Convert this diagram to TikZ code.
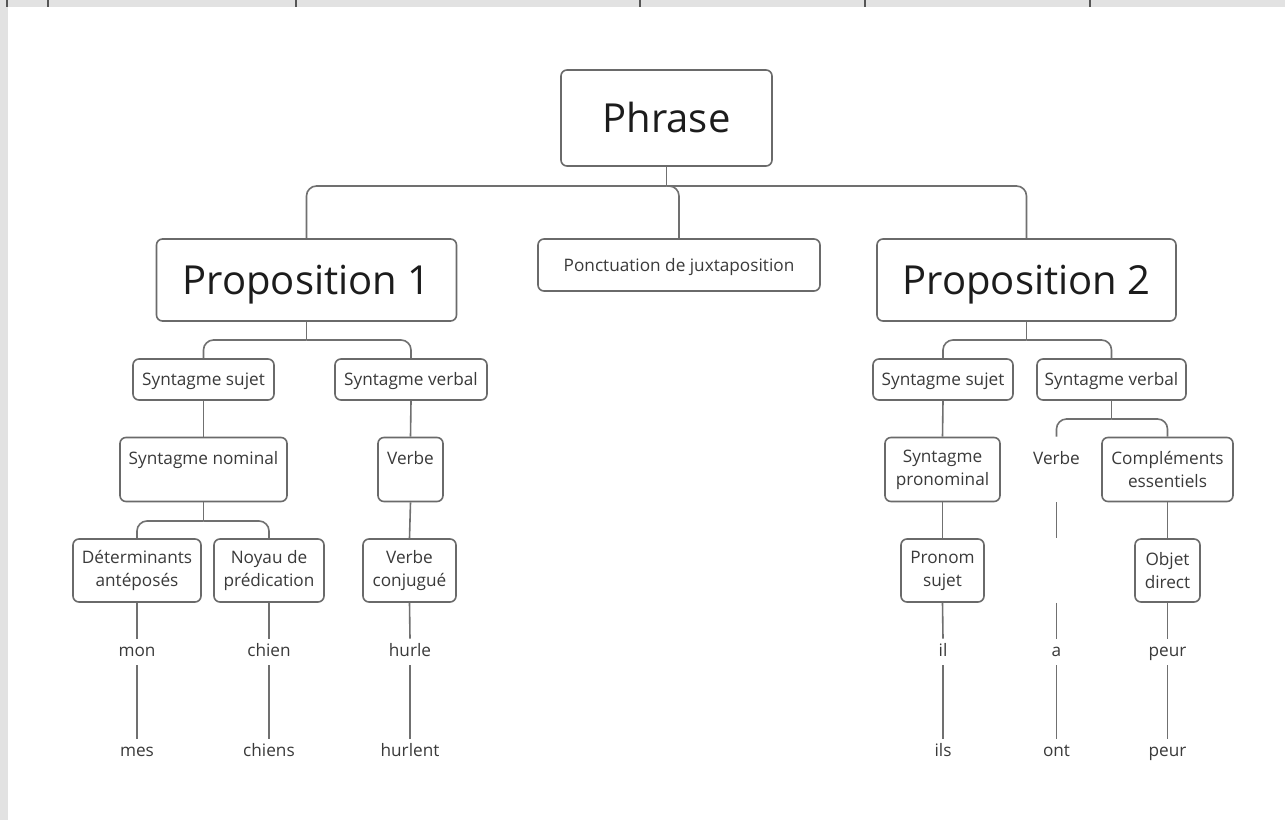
\documentclass[tikz,border=0pt]{standalone}
\usepackage{fontspec}
\setmainfont{Open Sans}
\usetikzlibrary{calc}
\definecolor{edgegray}{HTML}{707070}
\definecolor{boxgray}{HTML}{6A6A6A}
\definecolor{txtgray}{HTML}{3A3A3A}
\definecolor{bigtxt}{HTML}{1C1C1C}
\definecolor{bandgray}{HTML}{E2E2E2}
\definecolor{tickgray}{HTML}{555555}
\begin{document}
\begin{tikzpicture}[x=0.5pt,y=-0.5pt,
  box/.style={draw=boxgray, line width=0.8pt, rounded corners=3pt, fill=white, align=center, inner sep=0pt, font=\fontsize{8.6}{11.5}\selectfont, text=txtgray},
  onebox/.style={box, text height=6.2pt, text depth=0pt},
  twobox/.style={box, yshift=-0.8pt},
  bigbox/.style={box, font=\fontsize{20}{24}\selectfont, text=bigtxt, text height=14.3pt, text depth=0pt},
  hidbox/.style={box, draw=none, fill=none},
  word/.style={inner sep=0pt, minimum height=13pt, text height=4.6pt, text depth=0pt, font=\fontsize{8.6}{11}\selectfont, text=txtgray},
  conn/.style={draw=edgegray, line width=0.8pt, rounded corners=5pt},
  tick/.style={draw=tickgray, line width=0.6pt}]
\useasboundingbox (0,0) rectangle (1285,820);
\fill[white] (0,0) rectangle (1285,820);
% screenshot bands
\fill[bandgray] (0,0) rectangle (1285,7);
\fill[bandgray] (0,0) rectangle (8,820);
\foreach \tx in {7,48,296,640,865,1090} \draw[tick] (\tx,0) -- (\tx,7);

% level 0
\node[bigbox, minimum width=105.5pt, minimum height=48pt] (phrase) at (666.5,118) {Phrase};
% level 1
\node[bigbox, minimum width=150pt, minimum height=41pt] (p1) at (306.5,280) {Proposition 1};
\node[onebox, minimum width=141pt, minimum height=26pt] (ponct) at (679,265) {Ponctuation de juxtaposition};
\node[bigbox, minimum width=149.5pt, minimum height=41pt] (p2) at (1026.5,280) {Proposition 2};
% level 2
\node[onebox, minimum width=70.5pt, minimum height=20.5pt] (ss1) at (203.5,379.5) {Syntagme sujet};
\node[onebox, minimum width=76pt, minimum height=20.5pt] (sv1) at (411,379.5) {Syntagme verbal};
\node[onebox, minimum width=70pt, minimum height=20.5pt] (ss2) at (943,379.5) {Syntagme sujet};
\node[onebox, minimum width=74.5pt, minimum height=20.5pt] (sv2) at (1111.5,379.5) {Syntagme verbal};
% level 3
\node[box, minimum width=83.5pt, minimum height=32pt] (sn) at (203.5,469.5) {Syntagme nominal\\~};
\node[box, minimum width=32.5pt, minimum height=32pt] (vb1) at (410.5,469.5) {Verbe\\~};
\node[box, minimum width=57.5pt, minimum height=32pt] (spn) at (942.5,469.5) {Syntagme\\pronominal};
\node[hidbox, minimum width=25pt, minimum height=32pt] (vb2) at (1056.5,469.5) {Verbe\\~};
\node[box, minimum width=65.5pt, minimum height=32pt] (ce) at (1167.5,469.5) {Compléments\\essentiels};
% level 4
\node[box, minimum width=64pt, minimum height=31.5pt] (det) at (137,570.5) {Déterminants\\antéposés};
\node[box, minimum width=55pt, minimum height=31.5pt] (noy) at (269,570.5) {Noyau de\\prédication};
\node[box, minimum width=46.5pt, minimum height=31.5pt] (vc) at (409.5,570.5) {Verbe\\conjugué};
\node[box, minimum width=41.5pt, minimum height=31.5pt] (ps) at (942.5,570.5) {Pronom\\sujet};
\node[hidbox, minimum width=25pt, minimum height=31.5pt] (hv) at (1056.5,570.5) {};
\node[box, minimum width=32.5pt, minimum height=31.5pt] (od) at (1167.5,570.5) {Objet\\direct};
% words
\node[word] (w1) at (137,652) {mon};
\node[word] (w2) at (269,652) {chien};
\node[word] (w3) at (410,652) {hurle};
\node[word] (w4) at (943,652) {il};
\node[word] (w5) at (1056.5,652) {a};
\node[word] (w6) at (1167.5,652) {peur};
\node[word] (x1) at (137,752) {mes};
\node[word] (x2) at (269,752) {chiens};
\node[word] (x3) at (410,752) {hurlent};
\node[word] (x4) at (943,752) {ils};
\node[word] (x5) at (1056.5,752) {ont};
\node[word] (x6) at (1167.5,752) {peur};

% junctions
\coordinate (jA) at (666.5,186);
\coordinate (jB) at (306.5,340);
\coordinate (jC) at (203.5,521);
\coordinate (jD) at (1026.5,340);
\coordinate (jE) at (1111.5,419);

% connectors
\draw[conn] (phrase.south) -- (jA);
\draw[conn] (jA) -| (p1.north);
\draw[conn] (jA) -| (p2.north);
\draw[conn] (jA) -| (ponct.north);

\draw[conn] (p1.south) -- (jB);
\draw[conn] (jB) -| (ss1.north);
\draw[conn] (jB) -| (sv1.north);
\draw[conn] (ss1.south) -- (sn.north);
\draw[conn] (sv1.south) -- (vb1.north);
\draw[conn] (sn.south) -- (jC);
\draw[conn] (jC) -| (det.north);
\draw[conn] (jC) -| (noy.north);
\draw[conn] (vb1.south) -- (vc.north);
\draw[conn] (det.south) -- (w1.north);
\draw[conn] (noy.south) -- (w2.north);
\draw[conn] (vc.south) -- (w3.north);
\draw[conn] (w1.south) -- (x1.north);
\draw[conn] (w2.south) -- (x2.north);
\draw[conn] (w3.south) -- (x3.north);

\draw[conn] (p2.south) -- (jD);
\draw[conn] (jD) -| (ss2.north);
\draw[conn] (jD) -| (sv2.north);
\draw[conn] (ss2.south) -- (spn.north);
\draw[conn] (sv2.south) -- (jE);
\draw[conn] (jE) -| (vb2.north);
\draw[conn] (jE) -| (ce.north);
\draw[conn] (spn.south) -- (ps.north);
\draw[conn] (vb2.south) -- (hv.north);
\draw[conn] (ce.south) -- (od.north);
\draw[conn] (ps.south) -- (w4.north);
\draw[conn] (hv.south) -- (w5.north);
\draw[conn] (od.south) -- (w6.north);
\draw[conn] (w4.south) -- (x4.north);
\draw[conn] (w5.south) -- (x5.north);
\draw[conn] (w6.south) -- (x6.north);
\end{tikzpicture}
\end{document}
